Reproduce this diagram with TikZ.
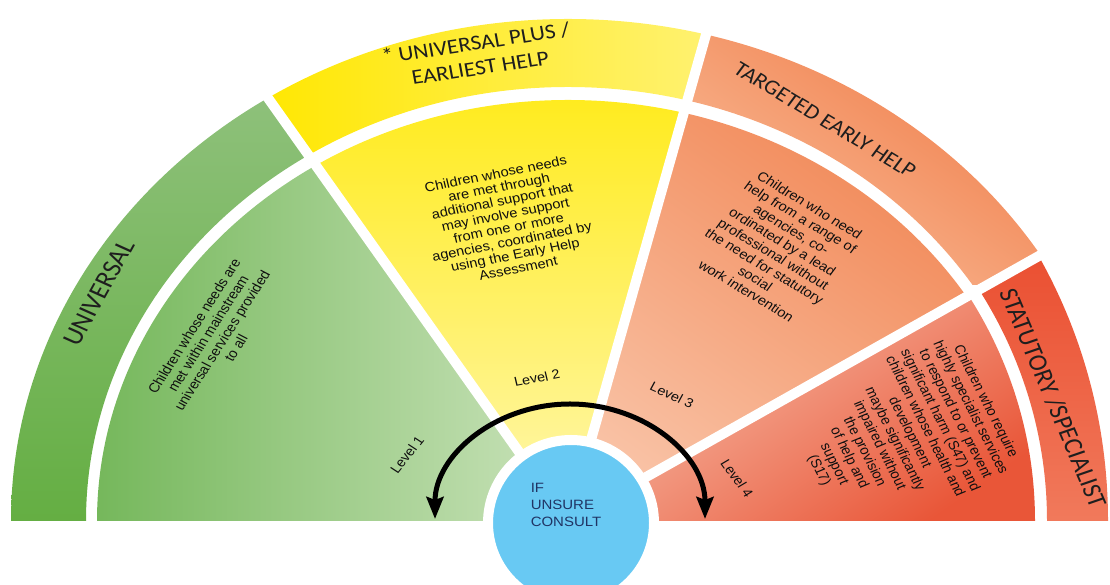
\documentclass[tikz,border=0pt]{standalone}
\usepackage{fontspec}
\setmainfont{Liberation Sans}
\newfontfamily\titlefam{Carlito}
\usetikzlibrary{arrows.meta}
\definecolor{gRingA}{RGB}{100,174,66}
\definecolor{gRingB}{RGB}{143,193,124}
\definecolor{gWedA}{RGB}{116,183,90}
\definecolor{gWedB}{RGB}{202,227,187}
\definecolor{yRingA}{RGB}{255,231,0}
\definecolor{yRingB}{RGB}{255,242,115}
\definecolor{yWedA}{RGB}{255,235,30}
\definecolor{yWedB}{RGB}{255,247,178}
\definecolor{oRingA}{RGB}{240,124,72}
\definecolor{oRingB}{RGB}{249,188,152}
\definecolor{oWedA}{RGB}{241,134,84}
\definecolor{oWedB}{RGB}{249,194,165}
\definecolor{rRingA}{RGB}{234,78,48}
\definecolor{rRingB}{RGB}{241,122,92}
\definecolor{rWedA}{RGB}{248,200,180}
\definecolor{rWedB}{RGB}{233,86,56}
\definecolor{consultblue}{RGB}{104,201,243}
\definecolor{consultink}{RGB}{32,52,100}
\definecolor{inktext}{RGB}{15,15,15}
\definecolor{inktitle}{RGB}{30,30,30}
\begin{document}
\begin{tikzpicture}[x=1pt,y=1pt,
  sep/.style={draw=white, line width=10pt},
  body/.style={align=center, inner sep=0pt, text=inktext, transform shape},
  ringtitle/.style={align=center, inner sep=0pt, text=inktitle, transform shape},
  levellabel/.style={inner sep=0pt, text=inktext, font=\fontsize{13}{15}\selectfont, transform shape},
  consultarrow/.style={line width=5pt, {Stealth[length=22pt,width=17pt,inset=3pt]}-{Stealth[length=22pt,width=17pt,inset=3pt]}}
]
\useasboundingbox (0,0) rectangle (1110,585);
\clip (0,0) rectangle (1110,585);

% ---------- UNIVERSAL (green) ----------
\begin{scope}
  \clip (568,64) -- (163,635) -- (-50,635) -- (-50,64) -- cycle;
  \clip (1125,64) arc[start angle=0,end angle=180,x radius=557,y radius=502]
        -- (86,64) arc[start angle=180,end angle=0,x radius=482,y radius=434] -- cycle;
  \shade[bottom color=gRingA, top color=gRingB] (0,60) rectangle (330,500);
\end{scope}
\begin{scope}
  \clip (568,64) -- (163,635) -- (-50,635) -- (-50,64) -- cycle;
  \clip (1039,64) arc[start angle=0,end angle=180,x radius=471,y radius=421] -- cycle;
  \shade[left color=gWedA, right color=gWedB] (90,60) rectangle (570,430);
\end{scope}

% ---------- UNIVERSAL PLUS (yellow) ----------
\begin{scope}
  \clip (568,64) -- (163,635) -- (730,635) -- cycle;
  \clip (1125,64) arc[start angle=0,end angle=180,x radius=557,y radius=502]
        -- (86,64) arc[start angle=180,end angle=0,x radius=482,y radius=434] -- cycle;
  \shade[left color=yRingA, right color=yRingB] (255,400) rectangle (720,575);
\end{scope}
\begin{scope}
  \clip (568,64) -- (163,635) -- (730,635) -- cycle;
  \clip (1039,64) arc[start angle=0,end angle=180,x radius=471,y radius=421] -- cycle;
  \shade[top color=yWedA, bottom color=yWedB] (290,60) rectangle (700,490);
\end{scope}

% ---------- TARGETED (orange) ----------
\begin{scope}
  \clip (568,64) -- (730,635) -- (1200,635) -- (1200,419.7) -- cycle;
  \clip (1125,64) arc[start angle=0,end angle=180,x radius=557,y radius=502]
        -- (86,64) arc[start angle=180,end angle=0,x radius=482,y radius=434] -- cycle;
  \shade[left color=oRingA, right color=oRingB, shading angle=-35] (690,300) rectangle (1045,555);
\end{scope}
\begin{scope}
  \clip (568,64) -- (730,635) -- (1200,635) -- (1200,419.7) -- cycle;
  \clip (1039,64) arc[start angle=0,end angle=180,x radius=471,y radius=421] -- cycle;
  \shade[left color=oWedA, right color=oWedB, shading angle=-35] (570,60) rectangle (1000,480);
\end{scope}

% ---------- STATUTORY (red) ----------
\begin{scope}
  \clip (568,64) -- (1200,419.7) -- (1200,64) -- cycle;
  \clip (1108,64) arc[start angle=0,end angle=180,x radius=540,y radius=540]
        -- (89,64) arc[start angle=180,end angle=0,x radius=479,y radius=450] -- cycle;
  \shade[top color=rRingA, bottom color=rRingB] (960,60) rectangle (1115,340);
\end{scope}
\begin{scope}
  \clip (568,64) -- (1200,419.7) -- (1200,64) -- cycle;
  \clip (1035,64) arc[start angle=0,end angle=180,x radius=467,y radius=438] -- cycle;
  \shade[left color=rWedA, right color=rWedB, shading angle=35] (570,60) rectangle (1040,310);
\end{scope}

% ---------- white separators ----------
\draw[sep] (568,64) -- (163,635);
\draw[sep] (568,64) -- (730,635);
\draw[sep] (568,64) -- (1200,419.7);

% ---------- centre circle ----------
\node[circle, fill=consultblue, draw=white, line width=10pt, minimum size=166pt, inner sep=0pt] (consult) at (571,62) {};
\begin{scope}[shift={(566,80)}, xscale=1.11]
  \node[align=left, inner sep=0pt, text=consultink, font=\fontsize{13.5}{17}\selectfont, transform shape] (consulttext) {IF\\UNSURE\\CONSULT};
\end{scope}

% ---------- arrow ----------
\coordinate (arrL) at (435,66);
\coordinate (arrR) at (705,66);
\draw[consultarrow] (arrL) arc[start angle=180,end angle=0,x radius=135,y radius=115];

% ---------- ring titles ----------
\begin{scope}[shift={(99,292)}, xscale=1.11]
  \node[ringtitle, rotate=63.5, font=\titlefam\fontsize{25}{29}\selectfont] (tUniversal) {UNIVERSAL};
\end{scope}
\begin{scope}[shift={(478,530)}, xscale=1.11]
  \node[ringtitle, rotate=9.4, font=\titlefam\fontsize{21}{25}\selectfont] (tUniversalPlus) {* UNIVERSAL PLUS /\\EARLIEST HELP};
\end{scope}
\begin{scope}[shift={(825,465)}, xscale=1.11]
  \node[ringtitle, rotate=-33.7, font=\titlefam\fontsize{21}{25}\selectfont] (tTargeted) {TARGETED EARLY HELP};
\end{scope}
\begin{scope}[shift={(1053,187)}, xscale=1.11]
  \node[ringtitle, rotate=-69.1, font=\titlefam\fontsize{24}{28}\selectfont] (tStatutory) {STATUTORY /SPECIALIST};
\end{scope}

% ---------- body texts ----------
\begin{scope}[shift={(215,248)}, xscale=1.11]
  \node[body, rotate=60, font=\fontsize{13.2}{14.5}\selectfont] (bGreen)
    {Children whose needs are\\met within mainstream\\universal services provided\\to all};
\end{scope}
\begin{scope}[shift={(507,364)}, xscale=1.11]
  \node[body, rotate=12.2, font=\fontsize{13.2}{13.8}\selectfont] (bYellow)
    {Children whose needs\\are met through\\additional support that\\may involve support\\from one or more\\agencies, coordinated by\\using the Early Help\\Assessment};
\end{scope}
\begin{scope}[shift={(778,337)}, xscale=1.11]
  \node[body, rotate=-33.7, font=\fontsize{13.2}{14.7}\selectfont] (bOrange)
    {Children who need\\help from a range of\\agencies, co-\\ordinated by a lead\\professional without\\the need for statutory\\social\\work intervention};
\end{scope}
\begin{scope}[shift={(902,149)}, xscale=1.11]
  \node[body, rotate=-65.3, font=\fontsize{13.2}{15}\selectfont] (bRed)
    {Children who require\\highly specialist services\\to respond to or prevent\\significant harm (S47) and\\children whose health and\\development\\maybe significantly\\impaired without\\the provision\\of help and\\support\\(S17)};
\end{scope}

% ---------- level labels ----------
\begin{scope}[shift={(407,130)}, xscale=1.11]
  \node[levellabel, rotate=54] (lev1) {Level 1};
\end{scope}
\begin{scope}[shift={(537,207)}, xscale=1.11]
  \node[levellabel, rotate=12] (lev2) {Level 2};
\end{scope}
\begin{scope}[shift={(672,190)}, xscale=1.11]
  \node[levellabel, rotate=-26] (lev3) {Level 3};
\end{scope}
\begin{scope}[shift={(737,107)}, xscale=1.11]
  \node[levellabel, rotate=-56.7] (lev4) {Level 4};
\end{scope}
\end{tikzpicture}
\end{document}
